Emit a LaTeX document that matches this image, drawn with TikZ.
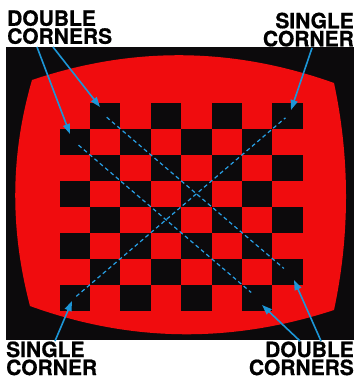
\documentclass[tikz,border=0pt]{standalone}
\usepackage{fontspec}
\setmainfont{TeX Gyre Heros}[BoldFeatures={FakeBold=0.7}]
\usetikzlibrary{arrows.meta}
\definecolor{tvred}{RGB}{240,12,14}
\definecolor{tvblack}{RGB}{12,10,12}
\definecolor{arrblue}{RGB}{28,150,215}
\definecolor{dashblue}{RGB}{40,160,230}
\begin{document}
\begin{tikzpicture}[x=1pt,y=-1pt,
  lbl/.style={font=\fontsize{21}{18}\selectfont\bfseries, inner sep=0pt, text=black},
  sq/.style={fill=tvblack, draw=none, minimum width=30.43pt, minimum height=25.97pt, inner sep=0pt, anchor=north west},
  callout/.style={draw=arrblue, line width=1.6pt, -{Triangle[length=10pt,width=7pt]}},
  diag/.style={draw=dashblue, line width=1.2pt, dash pattern=on 4pt off 3pt}]
\useasboundingbox (0,0) rectangle (357,379);
\fill[white] (0,0) rectangle (357,379);
\fill[tvblack] (6,47) rectangle (354,340);
\fill[tvred] (32,80) .. controls (133,46) and (233,47) .. (334,83)
  .. controls (350,158) and (350,235) .. (334,310)
  .. controls (233,343) and (132,343) .. (30,306)
  .. controls (10,230) and (10,156) .. (32,80) -- cycle;
\foreach \r in {0,...,7} {
  \foreach \c in {0,...,7} {
    \pgfmathtruncatemacro{\odd}{mod(\r+\c,2)}
    \ifnum\odd=1
      \node[sq] (s\r\c) at ({59.3+\c*30.425},{102.7+\r*25.97}) {};
    \fi
  }
}
\draw[diag, shorten <=2pt, shorten >=5pt] (s01.center) -- (s67.center);
\draw[diag, shorten <=5pt, shorten >=8pt] (s10.center) -- (s76.center);
\draw[diag, shorten <=2pt, shorten >=3pt] (s70.center) -- (s07.center);

\node[lbl, align=left, anchor=north west] (tl) at (7,10) {DOUBLE\\CORNERS};
\node[lbl, align=right, anchor=north east] (tr) at (354,12.5) {SINGLE\\CORNER};
\node[lbl, align=left, anchor=south west] (bl) at (6,375.5) {SINGLE\\CORNER};
\node[lbl, align=right, anchor=south east] (br) at (354,375.5) {DOUBLE\\CORNERS};

\coordinate (t1) at (37,47);  \coordinate (h1) at (70,134);
\coordinate (t2) at (53,47);  \coordinate (h2) at (100,107);
\coordinate (t3) at (312,48); \coordinate (h3) at (291,110);
\coordinate (t4) at (55,341); \coordinate (h4) at (72,301);
\coordinate (t5) at (300,341); \coordinate (h5) at (262,305);
\coordinate (t6) at (321,341); \coordinate (h6) at (294,280);
\draw[callout] (t1) -- (h1);
\draw[callout] (t2) -- (h2);
\draw[callout] (t3) -- (h3);
\draw[callout] (t4) -- (h4);
\draw[callout] (t5) -- (h5);
\draw[callout] (t6) -- (h6);
\end{tikzpicture}
\end{document}
